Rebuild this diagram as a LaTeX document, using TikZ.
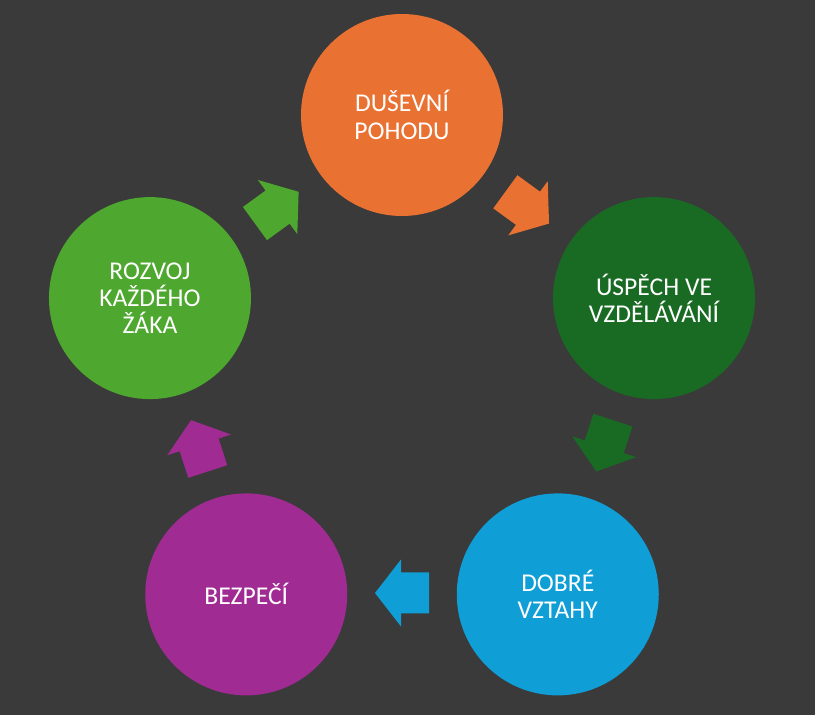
\documentclass[tikz,border=0pt]{standalone}
\usepackage{fontspec}
\setmainfont{Carlito}
\usetikzlibrary{calc}

\definecolor{pohoda}{HTML}{E97132}
\definecolor{uspech}{HTML}{196B24}
\definecolor{vztahy}{HTML}{0F9ED5}
\definecolor{bezpeci}{HTML}{A02B93}
\definecolor{rozvoj}{HTML}{4EA72E}
\definecolor{pozadi}{HTML}{3A3A3A}

\begin{document}
\begin{tikzpicture}[x = 0.75pt, y = 0.75pt,
		kruh/.style = {circle, minimum size = 151.5pt, inner sep = 0pt, text = white, align = center, font = \fontsize{19.2}{20.5}\selectfont}]
		\def\R{265};
		\def\rA{213};
		
		\fill [pozadi] (0,0) rectangle (815,715);
		\coordinate(stred) at (402,335);
		
		\node [kruh, fill = pohoda] (pohoda) at ($ (stred) + (90:\R) $) {DUŠEVNÍ\\POHODU};
		\node [kruh, fill = uspech] (uspech) at ($ (stred) + (18:\R) $) {ÚSPĚCH VE\\VZDĚLÁVÁNÍ};
		\node [kruh, fill = vztahy] (vztahy) at ($ (stred) + (-54:\R) $) {DOBRÉ\\VZTAHY};
		\node [kruh, fill = bezpeci] (bezpeci) at ($ (stred) + (-126:\R) $) {BEZPEČÍ};
		\node [kruh, fill = rozvoj] (rozvoj) at ($ (stred) + (162:\R) $) {ROZVOJ\\KAŽDÉHO\\ŽÁKA};
		
		\foreach \uhel/\barva in {54/pohoda, -18/uspech, -90/vztahy, -162/bezpeci, 126/rozvoj}
		{
			\fill [\barva, shift = {($ (stred) + (\uhel:\rA) $)}, rotate = \uhel - 90] (-27,-20.5) -- (1,-20.5) -- (1,-33.5) -- (27,0) -- (1,33.5) -- (1,20.5) -- (-27,20.5) -- cycle;
		}
	\end{tikzpicture}
\end{document}
